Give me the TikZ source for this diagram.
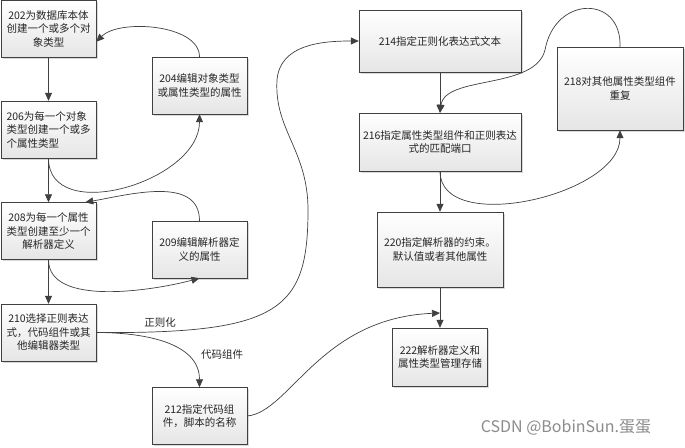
\documentclass[tikz,border=0pt]{standalone}
\usepackage{fontspec}
\setmainfont{Noto Sans CJK SC}
\usetikzlibrary{arrows.meta,shadows}
\begin{document}
\begin{tikzpicture}[x=1pt,y=1pt,
    main/.style={draw=black!75,rectangle,top color=white,bottom color=black!10,
        minimum width=95pt,minimum height=57pt,inner sep=1pt,align=center,
        font=\fontsize{10.5}{13.5}\selectfont,text=black!85,
        drop shadow={shadow xshift=1.5pt,shadow yshift=-1.5pt,fill=black!15,opacity=1}},
    lab/.style={font=\fontsize{10.5}{13.5}\selectfont,text=black!85},
    arr/.style={draw=black!75,line width=0.7pt,-{Triangle[length=8pt,width=7pt]}}]
                \useasboundingbox[fill=white] (0,0) rectangle (685,-447);
                \node[main](202) at (48.5,-29){202为数据库本体\\创建一个或多个对\\象类型};
                \node[main](204) at (199.5,-85.5){204编辑对象类型\\或属性类型的属性};
                \node[main,align=left](206) at (48.5,-129.5){206为每一个对象\\类型创建一个或多\\个属性类型};
                \node[main](208) at (48.5,-231){208为每一个属性\\类型创建至少一个\\解析器定义};
                \node[main](209) at (199.5,-249.5){209编辑解析器定\\义的属性};
                \node[main](210) at (48.5,-332.5){210选择正则表达\\式，代码组件或其\\他编辑器类型};
                \node[main](212) at (199.5,-416){212指定代码组\\件，脚本的名称};
                \node[main,minimum width=162pt,minimum height=62pt](214) at (440,-41){214指定正则化表达式文本};
                \node[main,minimum width=162pt,minimum height=58pt](216) at (440,-142){216指定属性类型组件和正则表达\\式的匹配端口};
                \node[main,minimum width=126pt,minimum height=83pt](218) at (620,-88.5){218对其他属性类型组件\\重复};
                \node[main,minimum width=126pt,minimum height=75pt](220) at (440,-249.5){220指定解析器的约束。\\默认值或者其他属性};
                \node[main,minimum height=58pt](222) at (440,-357){222解析器定义和\\属性类型管理存储};
                \coordinate(j222) at (440,-313);
                \node[lab](regex) at (160,-323){正则化};
                \node[lab](code) at (222,-355){代码组件};
                \node[font=\fontsize{16}{16}\selectfont,text=black!45](mark) at (566,-428){CSDN @BobinSun.蛋蛋};
                \draw[arr](202) -- (206);
                \draw[arr](206) -- (208);
                \draw[arr](208) -- (210);
                \draw[arr](214) -- (216);
                \draw[arr](216) -- (220);
                \draw[arr](220) -- (222);
                \draw[arr](204.north) to [out=90,in=45,looseness=0.8] (202.-15);
                \draw[arr](206.south) to [out=-90,in=-90,looseness=1.1] (204.south);
                \draw[arr](209.north) to [out=90,in=10] (208.38);
                \draw[arr](208.south) to [out=-90,in=195,looseness=0.8] (209.south);
                \draw[arr](210.east) to [out=0,in=90] (212.north);
                \draw[arr](210.east) .. controls (280,-334) and (308,-310) .. (308,-210)
                    .. controls (308,-150) and (274,-130) .. (277,-80)
                    .. controls (280,-45) and (320,-41) .. (214.west);
                \draw[arr](212.east) .. controls (290,-412) and (320,-318) .. (j222);
                \draw[arr](216.south) to [out=-90,in=-90,looseness=0.9] (218.south);
                \draw[arr](218.north) .. controls (622,5) and (555,5) .. (545,-50)
                    .. controls (535,-90) and (445,-75) .. (216.north);
            \end{tikzpicture}
\end{document}
